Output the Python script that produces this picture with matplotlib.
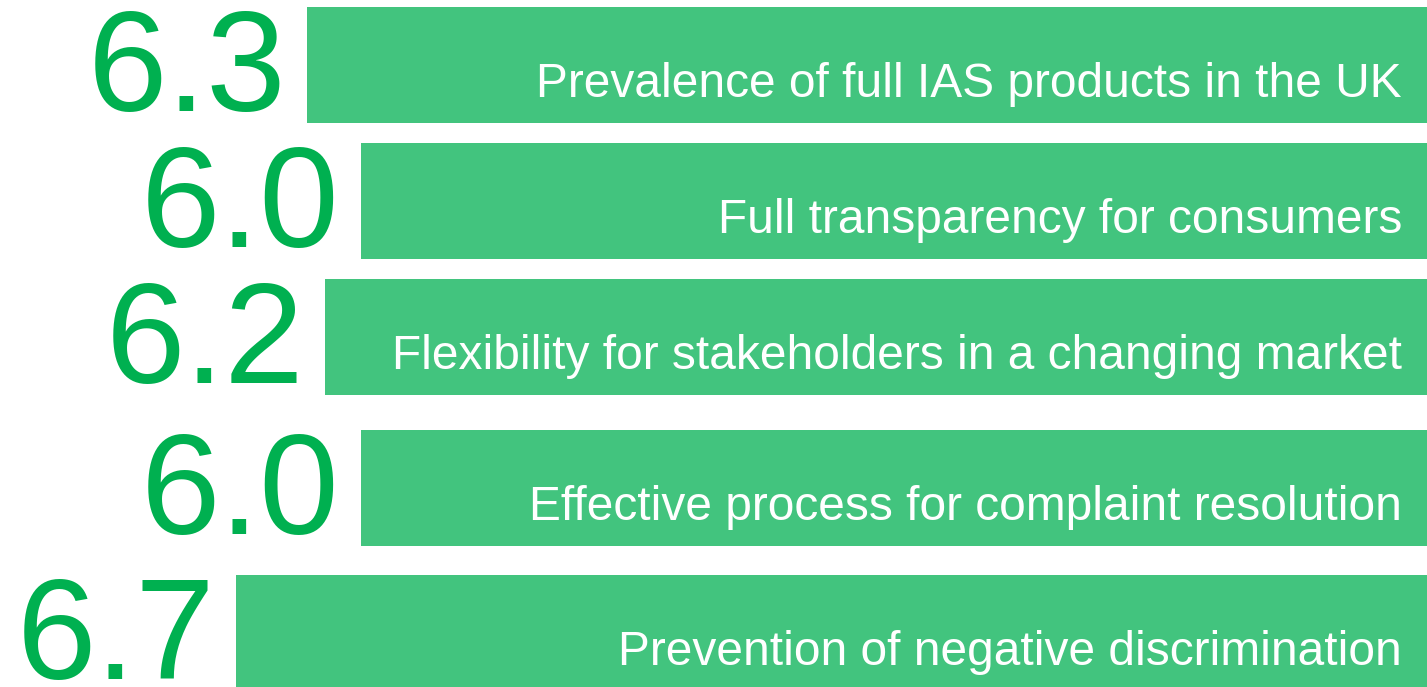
import matplotlib.pyplot as plt

# chart data
labels = [
    "Prevalence of full IAS products in the UK",
    "Full transparency for consumers",
    "Flexibility for stakeholders in a changing market",
    "Effective process for complaint resolution",
    "Prevention of negative discrimination",
]
scores = [6.3, 6.0, 6.2, 6.0, 6.7]

# layout (pixel rows of bar centres, figure is 1427x687 px)
bar_centers = [65, 201, 337, 488, 633]
BAR_H = 116
X_RIGHT = 8.03  # bars end at the right edge of the figure

BAR_COLOR = "#42C47E"
NUM_COLOR = "#00B050"

plt.rcParams["font.family"] = ["Liberation Sans", "DejaVu Sans"]

fig = plt.figure(figsize=(14.27, 6.87), dpi=100)
ax = fig.add_axes([0, 0, 1, 1])
ax.set_xlim(0, X_RIGHT)
ax.set_ylim(687, 0)
ax.axis("off")

lefts = [X_RIGHT - v for v in scores]
ax.barh(bar_centers, scores, left=lefts, height=BAR_H, color=BAR_COLOR, linewidth=0)

for lab, v, left, yc in zip(labels, scores, lefts, bar_centers):
    bottom = yc + BAR_H / 2
    # category name inside the bar, right aligned
    ax.annotate(lab, xy=(X_RIGHT, bottom), xytext=(-25, 26), textcoords="offset pixels",
                ha="right", va="baseline", color="white", fontsize=34.5,
                annotation_clip=False)
    # score to the left of the bar
    ax.annotate(f"{v:.1f}", xy=(left, bottom), xytext=(-21, 12), textcoords="offset pixels",
                ha="right", va="baseline", color=NUM_COLOR, fontsize=103,
                annotation_clip=False)

fig.savefig("out.png", dpi=100, facecolor="white")
